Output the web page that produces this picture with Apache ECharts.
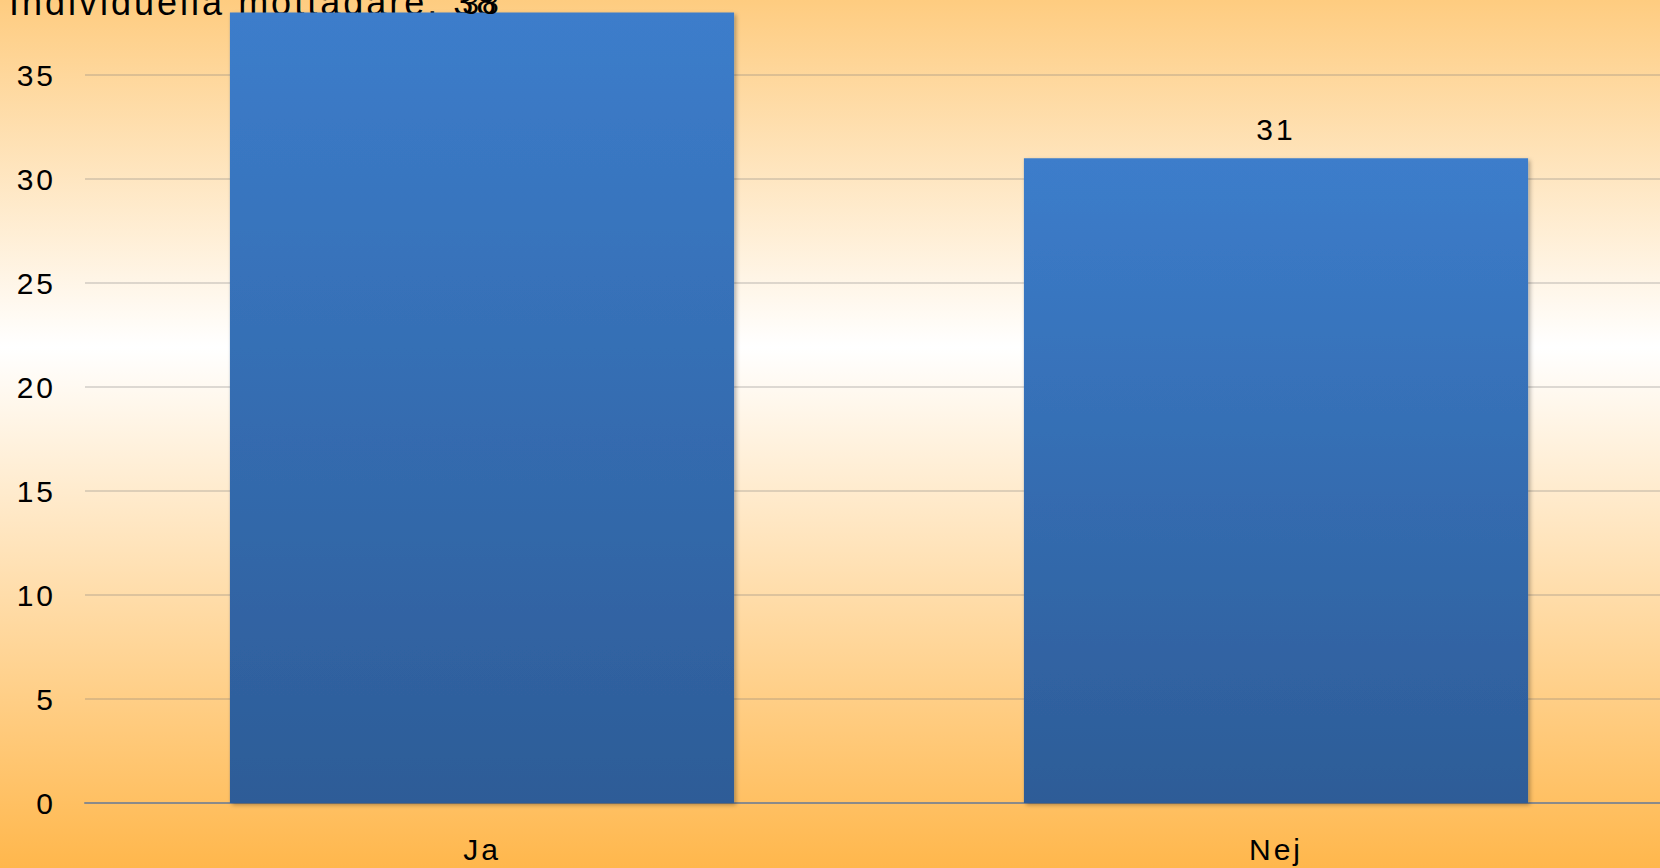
<!DOCTYPE html>
<html>
<head>
<meta charset="utf-8">
<script src="https://cdn.jsdelivr.net/npm/echarts@6/dist/echarts.min.js"></script>
<style>
  html, body { margin: 0; padding: 0; overflow: hidden; }
  #chart { width: 1660px; height: 868px; }
  #chart text { letter-spacing: 3px; }
</style>
</head>
<body>
<div id="chart"></div>
<script>
// Recipients answering yes / no
const categories = ['Ja', 'Nej'];
const answers = [38, 31];
const titleText = 'Individuella mottagare: 38';

const FONT = '"Liberation Sans", Arial, sans-serif';

// The tallest bar reaches the top edge, so its label is tucked down onto the bar
const maxValue = Math.max(...answers);
const barData = answers.map(v => v === maxValue
  ? { value: v, label: { distance: -6 } }
  : v);

const chart = echarts.init(document.getElementById('chart'), null, { renderer: 'svg' });

chart.setOption({
  animation: false,
  backgroundColor: {
    type: 'linear', x: 0, y: 0, x2: 0, y2: 1,
    colorStops: [
      { offset: 0, color: '#FECC80' },
      { offset: 0.4, color: '#FFFFFF' },
      { offset: 1, color: '#FFB74C' }
    ]
  },
  title: {
    text: titleText,
    left: 4,
    top: -21,
    z: 1,
    textStyle: { fontFamily: FONT, fontSize: 36, fontWeight: 'normal', color: '#000' }
  },
  grid: {
    left: 85, right: -13, top: -29, bottom: 65,
    containLabel: false,
    outerBoundsMode: 'none'
  },
  xAxis: {
    type: 'category',
    data: categories,
    axisLine: { lineStyle: { color: '#8A8A8A', width: 2 } },
    axisTick: { show: false },
    axisLabel: { fontFamily: FONT, fontSize: 30, color: '#000', margin: 31 }
  },
  yAxis: {
    type: 'value',
    min: 0,
    max: 40,
    interval: 5,
    axisLine: { show: false },
    axisTick: { show: false },
    axisLabel: { fontFamily: FONT, fontSize: 30, color: '#000', margin: 29 },
    splitLine: { lineStyle: { color: 'rgba(120,120,120,0.25)', width: 2 } }
  },
  series: [{
    type: 'bar',
    data: barData,
    barWidth: '63.5%',
    z: 2,
    itemStyle: {
      color: {
        type: 'linear', x: 0, y: 0, x2: 0, y2: 1,
        colorStops: [
          { offset: 0, color: '#3C7DCB' },
          { offset: 1, color: '#2D5C97' }
        ]
      },
      shadowColor: 'rgba(0,0,0,0.3)',
      shadowBlur: 4,
      shadowOffsetX: 2,
      shadowOffsetY: 2
    },
    label: {
      show: true,
      position: 'top',
      distance: 14,
      fontFamily: FONT,
      fontSize: 30,
      color: '#000'
    }
  }]
});
</script>
</body>
</html>
